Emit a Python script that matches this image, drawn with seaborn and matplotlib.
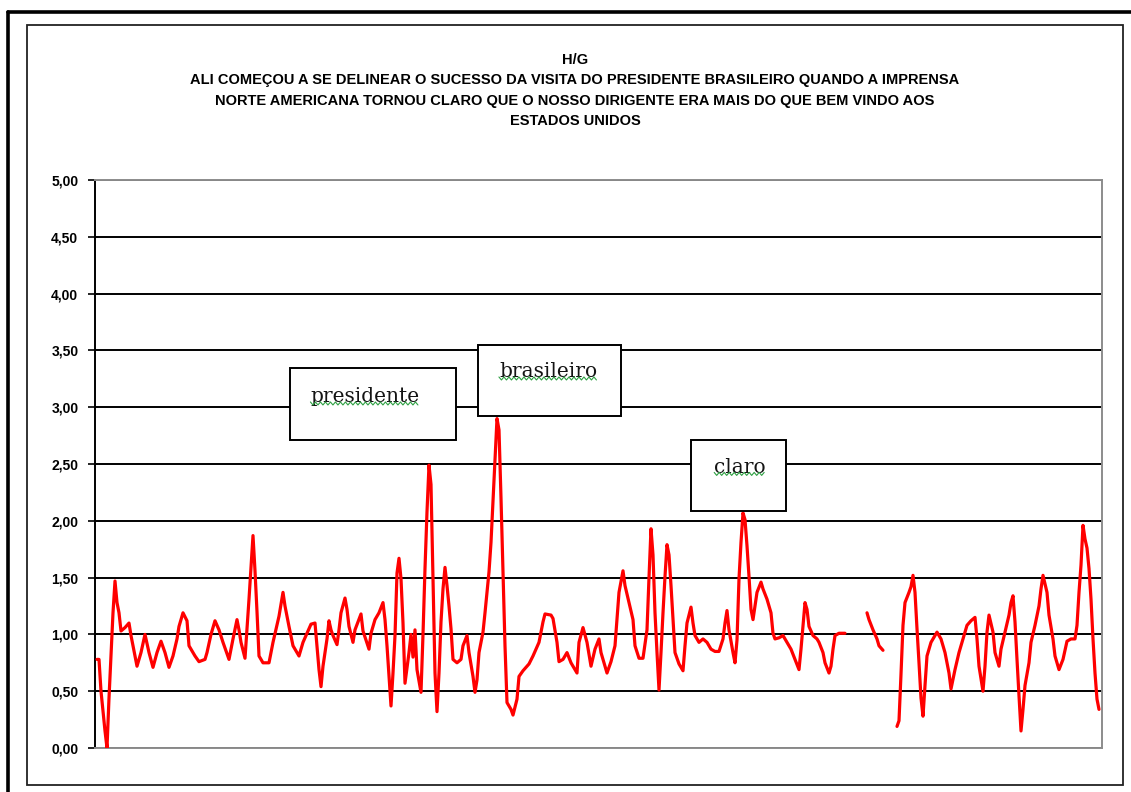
import numpy as np
import pandas as pd
import matplotlib
matplotlib.use("Agg")
import matplotlib.pyplot as plt
import seaborn as sns
from matplotlib.patches import Rectangle
from matplotlib.lines import Line2D
from matplotlib.ticker import FuncFormatter, MultipleLocator

titulo = [
    "H/G",
    "ALI COMEÇOU A SE DELINEAR O SUCESSO DA VISITA DO PRESIDENTE BRASILEIRO QUANDO A IMPRENSA",
    "NORTE AMERICANA TORNOU CLARO QUE O NOSSO DIRIGENTE ERA MAIS DO QUE BEM VINDO AOS",
    "ESTADOS UNIDOS",
]

# first stretch of the H/G series (position in the text, value)
trecho1_pos = [
    1, 2, 3, 5, 6, 7, 8, 9, 10, 11, 12, 13, 15, 17, 18, 21, 23, 25, 27, 29,
    31, 33, 35, 37, 39, 41, 42, 44, 46, 47, 50, 52, 55, 56, 58, 60, 62, 64, 67, 69,
    71, 72, 73, 75, 77, 79, 80, 81, 82, 84, 87, 89, 92, 94, 95, 97, 99, 102, 104, 106,
    108, 110, 111, 112, 113, 114, 116, 117, 118, 119, 121, 122, 123, 125, 126, 127, 129, 130, 133, 134,
    137, 138, 140, 142, 144, 145, 146, 147, 148, 149, 150, 151, 152, 153, 154, 155, 157, 158, 159, 160,
    161, 163, 164, 165, 166, 167, 168, 169, 170, 171, 172, 173, 174, 175, 176, 177, 178, 179, 181, 183,
    184, 186, 187, 189, 190, 191, 192, 194, 195, 196, 197, 198, 199, 200, 201, 202, 203, 204, 205, 206,
    208, 209, 211, 212, 214, 217, 219, 222, 224, 225, 228, 229, 231, 232, 234, 236, 238, 241, 242, 244,
    246, 248, 250, 252, 253, 256, 258, 260, 261, 262, 264, 265, 267, 269, 270, 272, 274, 276, 277, 278,
    279, 280, 281, 282, 283, 284, 285, 286, 287, 288, 289, 290, 292, 294, 295, 296, 298, 299, 300, 302,
    304, 306, 308, 310, 312, 314, 315, 316, 317, 319, 320, 321, 322, 323, 324, 325, 326, 327, 328, 329,
    330, 331, 333, 334, 336, 338, 339, 340, 342, 344, 346, 348, 350, 352, 353, 354, 355, 356, 357, 359,
    361, 362, 364, 365, 367, 368, 369, 370, 372, 375,
]
trecho1_val = [
    0.78, 0.78, 0.50, 0.15, 0.00, 0.44, 0.81, 1.19, 1.47, 1.28, 1.19, 1.03, 1.06, 1.10, 0.99, 0.72, 0.84, 1.00, 0.84, 0.71,
    0.84, 0.94, 0.84, 0.71, 0.81, 0.96, 1.07, 1.19, 1.12, 0.90, 0.81, 0.76, 0.78, 0.84, 1.00, 1.12, 1.04, 0.93, 0.78, 0.96,
    1.13, 1.04, 0.93, 0.79, 1.31, 1.87, 1.56, 1.20, 0.81, 0.75, 0.75, 0.93, 1.16, 1.37, 1.25, 1.07, 0.90, 0.81, 0.93, 1.01,
    1.09, 1.10, 0.90, 0.69, 0.54, 0.72, 0.96, 1.12, 1.04, 0.99, 0.91, 1.04, 1.19, 1.32, 1.22, 1.07, 0.93, 1.04, 1.18, 1.03,
    0.87, 1.01, 1.13, 1.19, 1.28, 1.13, 0.90, 0.63, 0.37, 0.66, 0.99, 1.54, 1.67, 1.49, 1.10, 0.57, 0.84, 1.00, 0.80, 1.04,
    0.69, 0.49, 1.00, 1.58, 2.08, 2.49, 2.32, 1.50, 0.66, 0.32, 0.66, 1.11, 1.40, 1.59, 1.43, 1.25, 1.05, 0.78, 0.75, 0.78,
    0.90, 0.99, 0.84, 0.63, 0.49, 0.60, 0.84, 1.02, 1.19, 1.37, 1.55, 1.81, 2.17, 2.55, 2.90, 2.80, 2.20, 1.55, 0.90, 0.40,
    0.34, 0.29, 0.43, 0.63, 0.68, 0.74, 0.81, 0.93, 1.11, 1.18, 1.17, 1.14, 0.93, 0.76, 0.78, 0.84, 0.75, 0.66, 0.93, 1.06,
    0.93, 0.72, 0.87, 0.96, 0.84, 0.66, 0.76, 0.90, 1.13, 1.37, 1.56, 1.43, 1.28, 1.13, 0.90, 0.79, 0.79, 1.04, 1.50, 1.93,
    1.70, 1.19, 0.84, 0.51, 0.84, 1.19, 1.51, 1.79, 1.70, 1.43, 1.13, 0.84, 0.74, 0.68, 0.90, 1.10, 1.24, 1.10, 0.99, 0.93,
    0.96, 0.93, 0.87, 0.85, 0.85, 0.96, 1.10, 1.21, 1.04, 0.84, 0.75, 0.95, 1.49, 1.81, 2.07, 2.01, 1.78, 1.51, 1.22, 1.13,
    1.25, 1.37, 1.46, 1.40, 1.31, 1.19, 1.01, 0.96, 0.97, 0.99, 0.93, 0.87, 0.78, 0.69, 0.87, 1.07, 1.28, 1.22, 1.07, 0.99,
    0.96, 0.93, 0.84, 0.75, 0.66, 0.72, 0.87, 0.99, 1.01, 1.01,
]

# second stretch
trecho2_pos = [386, 387, 389, 391, 392, 394]
trecho2_val = [1.19, 1.13, 1.04, 0.96, 0.90, 0.86]

# third stretch
trecho3_pos = [
    401, 402, 403, 404, 405, 407, 408, 409, 410, 411, 412, 413, 414, 415, 416, 418, 421, 423, 425, 427,
    428, 430, 432, 434, 436, 438, 440, 441, 442, 444, 445, 446, 447, 449, 450, 452, 453, 455, 457, 458,
    459, 460, 461, 462, 463, 464, 465, 467, 468, 470, 472, 473, 474, 476, 477, 479, 480, 482, 484, 486,
    488, 490, 491, 492, 493, 494, 495, 496, 497, 498, 499, 500, 501, 502,
]
trecho3_val = [
    0.19, 0.24, 0.65, 1.08, 1.28, 1.37, 1.42, 1.52, 1.37, 1.05, 0.75, 0.44, 0.28, 0.55, 0.81, 0.93, 1.02, 0.96, 0.84, 0.66,
    0.52, 0.69, 0.84, 0.96, 1.08, 1.12, 1.15, 0.96, 0.72, 0.50, 0.72, 1.02, 1.17, 1.02, 0.84, 0.72, 0.87, 1.02, 1.17, 1.28,
    1.34, 1.11, 0.78, 0.46, 0.15, 0.34, 0.55, 0.75, 0.93, 1.08, 1.25, 1.40, 1.52, 1.37, 1.17, 0.96, 0.81, 0.69, 0.78, 0.94,
    0.96, 0.96, 1.08, 1.37, 1.61, 1.96, 1.84, 1.76, 1.58, 1.31, 0.96, 0.66, 0.43, 0.34,
]

palavras = ["presidente", "brasileiro", "claro"]
n_posicoes = 503.5

df = pd.concat([
    pd.DataFrame({"pos": trecho1_pos, "hg": trecho1_val, "trecho": "1"}),
    pd.DataFrame({"pos": trecho2_pos, "hg": trecho2_val, "trecho": "2"}),
    pd.DataFrame({"pos": trecho3_pos, "hg": trecho3_val, "trecho": "3"}),
], ignore_index=True)

sns.set_style("white")
plt.rcParams["font.family"] = ["Liberation Sans", "DejaVu Sans"]

W, H = 1131, 792
fig = plt.figure(figsize=(W / 100, H / 100), dpi=100)
fig.patch.set_facecolor("white")


def fx(px):
    return px / W


def fy(py):
    return 1 - py / H


# page frame and chart frame
fig.add_artist(Line2D([fx(8), 1.0], [fy(12), fy(12)], color="black", lw=2.6,
                      transform=fig.transFigure))
fig.add_artist(Line2D([fx(8), fx(8)], [fy(12), 0.0], color="black", lw=2.6,
                      transform=fig.transFigure))
fig.add_artist(Rectangle((fx(27), fy(785)), fx(1123) - fx(27), fy(25) - fy(785),
                         fill=False, ec="#222222", lw=1.3, transform=fig.transFigure))

ax = fig.add_axes([fx(95), fy(748), fx(1102) - fx(95), fy(180) - fy(748)])
ax.set_facecolor("white")

sns.lineplot(data=df, x="pos", y="hg", hue="trecho", palette=["#FF0000"] * 3,
             estimator=None, sort=False, legend=False, lw=2.3, ax=ax, zorder=3)

ax.set_xlim(0, n_posicoes)
ax.set_ylim(0, 5)
ax.yaxis.set_major_locator(MultipleLocator(0.5))
ax.yaxis.set_major_formatter(FuncFormatter(lambda v, _: f"{v:.2f}".replace(".", ",")))
ax.set_xticks([])
ax.set_xlabel("")
ax.set_ylabel("")
ax.grid(axis="y", color="black", lw=1.4)
ax.grid(axis="x", visible=False)
ax.set_axisbelow(True)
for side in ["top", "right", "bottom"]:
    ax.spines[side].set_color("#8c8c8c")
    ax.spines[side].set_linewidth(1.4)
ax.spines["left"].set_color("black")
ax.spines["left"].set_linewidth(1.4)
ax.tick_params(axis="y", left=True, length=5, width=1.2, color="black", pad=7,
               labelsize=10, labelcolor="black")
for lab in ax.get_yticklabels():
    lab.set_fontweight("bold")

# title lines
for texto, py in zip(titulo, [60, 80, 101, 121]):
    fig.text(fx(575), fy(py), texto, ha="center", va="center", fontsize=10.5,
             fontweight="bold", color="black")

# word boxes: (x0, x1, y0, y1) in data units and text anchor
caixas = {
    "presidente": ((97.5, 180.5, 2.71, 3.345), (135.0, 3.09)),
    "brasileiro": ((191.5, 263.0, 2.92, 3.55), (226.5, 3.31)),
    "claro": ((298.0, 345.5, 2.09, 2.71), (322.5, 2.47)),
}
textos = []
for palavra in palavras:
    (x0, x1, y0, y1), (tx, ty) = caixas[palavra]
    ax.add_patch(Rectangle((x0, y0), x1 - x0, y1 - y0, fc="white", ec="black",
                           lw=1.4, zorder=5, clip_on=False))
    t = ax.text(tx, ty, palavra, family="DejaVu Serif", fontsize=14.5, ha="center",
                va="center", color="#141414", zorder=6, clip_on=False)
    textos.append(t)

# wavy green underline beneath each word
fig.canvas.draw()
renderer = fig.canvas.get_renderer()
inv = fig.transFigure.inverted()
for t in textos:
    bb = t.get_window_extent(renderer)
    xs = np.arange(bb.x0, bb.x1, 2.5)
    ys = bb.y0 + 3 + np.where(np.arange(len(xs)) % 2 == 0, 1.5, -1.5)
    pts = inv.transform(np.column_stack([xs, ys]))
    fig.add_artist(Line2D(pts[:, 0], pts[:, 1], color="#2ea043", lw=0.8,
                          transform=fig.transFigure, zorder=7))

fig.savefig("out.png", dpi=100, facecolor="white")
